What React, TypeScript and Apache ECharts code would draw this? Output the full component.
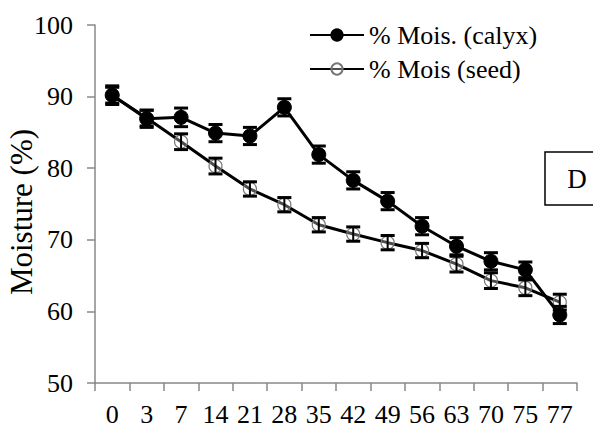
import React, { useEffect, useRef } from "react";
import * as echarts from "echarts";

const categories = ["0", "3", "7", "14", "21", "28", "35", "42", "49", "56", "63", "70", "75", "77"];
const calyxValues = [90.2, 86.9, 87.1, 84.9, 84.5, 88.5, 81.9, 78.3, 75.4, 71.9, 69.1, 67.0, 65.8, 59.5];
const calyxErrors = [1.3, 1.2, 1.3, 1.2, 1.2, 1.2, 1.2, 1.2, 1.2, 1.2, 1.2, 1.2, 1.1, 1.2];
const seedValues = [90.2, 87.0, 83.7, 80.3, 77.1, 74.9, 72.1, 70.8, 69.6, 68.5, 66.6, 64.3, 63.3, 61.3];
const seedErrors = [1.1, 1.1, 1.1, 1.1, 1.0, 1.0, 1.0, 1.0, 1.0, 1.0, 1.1, 1.1, 1.1, 1.1];
const yTicks = [50, 60, 70, 80, 90, 100];
const yAxisTitle = "Moisture (%)";

const FONT = "Liberation Serif";

function errorRender(params: any, api: any) {
  const x = api.value(0);
  const y = api.value(1);
  const e = api.value(2);
  const top = api.coord([x, y + e]);
  const bot = api.coord([x, y - e]);
  const hw = 7;
  const style = { stroke: "#000", lineWidth: 2 };
  const capStyle = { stroke: "#000", lineWidth: 3 };
  return {
    type: "group",
    children: [
      { type: "line", shape: { x1: top[0], y1: top[1], x2: bot[0], y2: bot[1] }, style },
      { type: "line", shape: { x1: top[0] - hw, y1: top[1], x2: top[0] + hw, y2: top[1] }, style: capStyle },
      { type: "line", shape: { x1: bot[0] - hw, y1: bot[1], x2: bot[0] + hw, y2: bot[1] }, style: capStyle },
    ],
  };
}

export default function App() {
  const ref = useRef<HTMLDivElement>(null);
  useEffect(() => {
    if (!ref.current) return;
    const chart = echarts.init(ref.current, null, { renderer: "svg" });
    chart.setOption({
      animation: false,
      grid: { left: 95, right: 16, top: 25, bottom: 43 },
      legend: {
        orient: "vertical",
        left: 304,
        top: 17,
        itemWidth: 54,
        itemHeight: 14,
        itemGap: 8,
        data: ["% Mois. (calyx)", "% Mois (seed)"],
        textStyle: { fontFamily: FONT, fontSize: 26, color: "#000" },
      },
      xAxis: {
        type: "category",
        data: categories,
        boundaryGap: true,
        axisLine: { lineStyle: { color: "#888", width: 1.5 } },
        axisTick: { show: true, length: 8, alignWithLabel: false, lineStyle: { color: "#888", width: 1.5 } },
        axisLabel: { fontFamily: FONT, fontSize: 26, color: "#000", margin: 18 },
      },
      yAxis: {
        type: "value",
        min: yTicks[0],
        max: yTicks[yTicks.length - 1],
        interval: 10,
        axisLine: { show: true, lineStyle: { color: "#888", width: 1.5 } },
        axisTick: { show: true, length: 8, lineStyle: { color: "#888", width: 1.5 } },
        splitLine: { show: false },
        axisLabel: { fontFamily: FONT, fontSize: 26, color: "#000", margin: 22 },
      },
      series: [
        {
          name: "% Mois (seed)",
          type: "line",
          data: seedValues,
          symbol: "circle",
          symbolSize: 13,
          lineStyle: { color: "#000", width: 3 },
          itemStyle: { color: "rgba(255,255,255,0.3)", borderColor: "#777", borderWidth: 1.2 },
          z: 2,
        },
        {
          name: "% Mois. (calyx)",
          type: "line",
          data: calyxValues,
          symbol: "circle",
          symbolSize: 14,
          lineStyle: { color: "#000", width: 3 },
          itemStyle: { color: "#000", borderColor: "#000", borderWidth: 1 },
          z: 3,
        },
        {
          type: "custom",
          name: "seedErr",
          renderItem: errorRender,
          data: seedValues.map((v, i) => [i, v, seedErrors[i]]),
          encode: { x: 0, y: 1 },
          z: 4,
        },
        {
          type: "custom",
          name: "calyxErr",
          renderItem: errorRender,
          data: calyxValues.map((v, i) => [i, v, calyxErrors[i]]),
          encode: { x: 0, y: 1 },
          z: 5,
        },
      ],
      graphic: [
        {
          type: "text",
          x: 21,
          y: 212,
          rotation: Math.PI / 2,
          style: { text: yAxisTitle, fontFamily: FONT, fontSize: 31, fill: "#000", textAlign: "center", textVerticalAlign: "middle" },
        },
        {
          type: "rect",
          shape: { x: 545, y: 152, width: 60, height: 53 },
          style: { fill: "#fff", stroke: "#000", lineWidth: 1.5 },
          z: 10,
        },
        {
          type: "text",
          x: 577,
          y: 179,
          style: { text: "D", fontFamily: FONT, fontSize: 27, fill: "#000", textAlign: "center", textVerticalAlign: "middle" },
          z: 11,
        },
      ],
    });
    return () => chart.dispose();
  }, []);
  return <div ref={ref} style={{ position: "absolute", left: 0, top: 0, width: 593, height: 427 }} />;
}
